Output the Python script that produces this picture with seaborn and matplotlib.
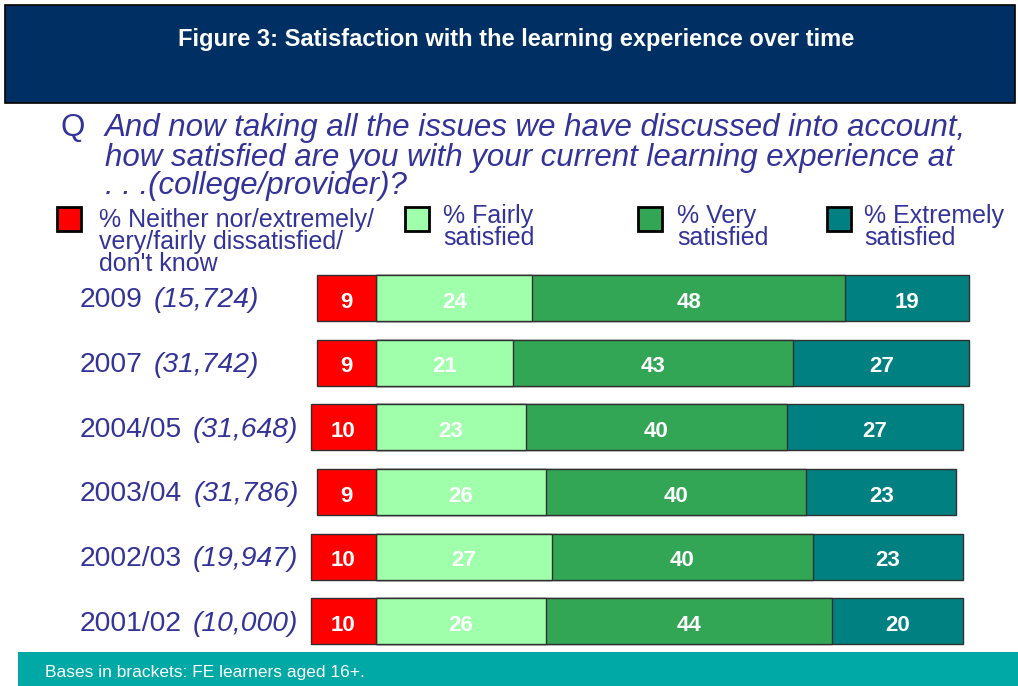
import matplotlib
matplotlib.use("Agg")
import matplotlib.pyplot as plt
import matplotlib.transforms as mtransforms
from matplotlib.patches import Rectangle
import seaborn as sns
import pandas as pd

# chart data
years = ["2009", "2007", "2004/05", "2003/04", "2002/03", "2001/02"]
bases = ["(15,724)", "(31,742)", "(31,648)", "(31,786)", "(19,947)", "(10,000)"]
dissatisfied = [9, 9, 10, 9, 10, 10]
fairly = [24, 21, 23, 26, 27, 26]
very = [48, 43, 40, 40, 40, 44]
extremely = [19, 27, 27, 23, 23, 20]
legend_labels = [["% Neither nor/extremely/", "very/fairly dissatisfied/", "don't know"],
                 ["% Fairly", "satisfied"], ["% Very", "satisfied"],
                 ["% Extremely", "satisfied"]]

c_red = "#FF0000"
c_light = "#A0FFAA"
c_green = "#33A655"
c_teal = "#008080"
c_text = "#333399"
c_navy = "#003063"
c_band = "#00A9A5"

sns.set_style("white")
plt.rcParams["font.family"] = ["Liberation Sans", "DejaVu Sans"]

df = pd.DataFrame({"year": years, "red": dissatisfied, "fairly": fairly,
                   "very": very, "extremely": extremely})
df["neg"] = -df["red"]
df["c1"] = df["fairly"]
df["c2"] = df["c1"] + df["very"]
df["c3"] = df["c2"] + df["extremely"]

fig = plt.figure(figsize=(10.18, 6.86), dpi=100)
W, H = 1018, 686

# header
fig.patches.append(Rectangle((5 / W, 1 - 103 / H), 1010 / W, 98 / H, transform=fig.transFigure,
                             facecolor=c_navy, edgecolor="black", lw=1.2, zorder=0))
fig.text(516 / W, 1 - 46 / H, "Figure 3: Satisfaction with the learning experience over time",
         color="white", fontsize=17, fontweight="bold", ha="center", va="baseline")

# footer band
fig.patches.append(Rectangle((18 / W, 0), 1000 / W, 34 / H, transform=fig.transFigure,
                             facecolor=c_band, edgecolor="none", zorder=0))
fig.text(45 / W, 1 - 677 / H, "Bases in brackets: FE learners aged 16+.", color="white",
         fontsize=12.5, va="baseline")

# question
fig.text(60 / W, 1 - 136 / H, "Q", color=c_text, fontsize=22.5, va="baseline")
q_lines = ["And now taking all the issues we have discussed into account,",
           "how satisfied are you with your current learning experience at",
           ". . .(college/provider)?"]
for line, base in zip(q_lines, [136, 166, 194]):
    fig.text(105 / W, 1 - base / H, line, color=c_text, fontsize=22.5, style="italic",
             va="baseline")

# legend
leg_sq = [57, 405, 638, 827]
leg_tx = [99, 443, 677, 864]
leg_base = [[227, 249, 271], [223, 245], [223, 245], [223, 245]]
for col, sx, tx, labs, bl in zip([c_red, c_light, c_green, c_teal], leg_sq, leg_tx,
                                 legend_labels, leg_base):
    fig.patches.append(Rectangle((sx / W, 1 - 231 / H), 24 / W, 24 / H, transform=fig.transFigure,
                                 facecolor=col, edgecolor="black", lw=2))
    for lab, b in zip(labs, bl):
        fig.text(tx / W, 1 - b / H, lab, color=c_text, fontsize=18, va="baseline")

# bars
ax = fig.add_axes([300 / W, 1 - 655 / H, 700 / W, 395 / H])
kw = dict(y="year", orient="h", errorbar=None, saturation=1, width=0.71,
          edgecolor="#303030", linewidth=1, ax=ax)
sns.barplot(data=df, x="c3", color=c_teal, **kw)
sns.barplot(data=df, x="c2", color=c_green, **kw)
sns.barplot(data=df, x="c1", color=c_light, **kw)
sns.barplot(data=df, x="neg", color=c_red, **kw)

ax.set_xlim(-76 / 6.52, 624 / 6.52)
ax.set_ylim(5.52, -0.586)
ax.set_xticks([])
ax.set_yticks([])
ax.set_xlabel("")
ax.set_ylabel("")
sns.despine(ax=ax, left=True, bottom=True)
ax.patch.set_alpha(0)

for i, row in df.iterrows():
    segs = [(row["neg"], 0, row["red"]), (0, row["c1"], row["fairly"]),
            (row["c1"], row["c2"], row["very"]), (row["c2"], row["c3"], row["extremely"])]
    for a, b, v in segs:
        ax.text((a + b) / 2, i + 0.15, str(v), color="white", fontsize=16, fontweight="bold",
                ha="center", va="baseline")

# row labels: year in normal style, base in italics
trans = mtransforms.blended_transform_factory(fig.transFigure, ax.transData)
renderer = fig.canvas.get_renderer()
for i, (yr, b) in enumerate(zip(years, bases)):
    t = ax.text(80 / W, i + 0.145, yr, transform=trans, color=c_text, fontsize=20.3,
                va="baseline", clip_on=False)
    bb = t.get_window_extent(renderer=renderer)
    ax.text((bb.x1 + 11) / fig.bbox.width, i + 0.145, b, transform=trans, color=c_text,
            fontsize=20.3, style="italic", va="baseline", clip_on=False)

fig.savefig("out.png", dpi=100)
